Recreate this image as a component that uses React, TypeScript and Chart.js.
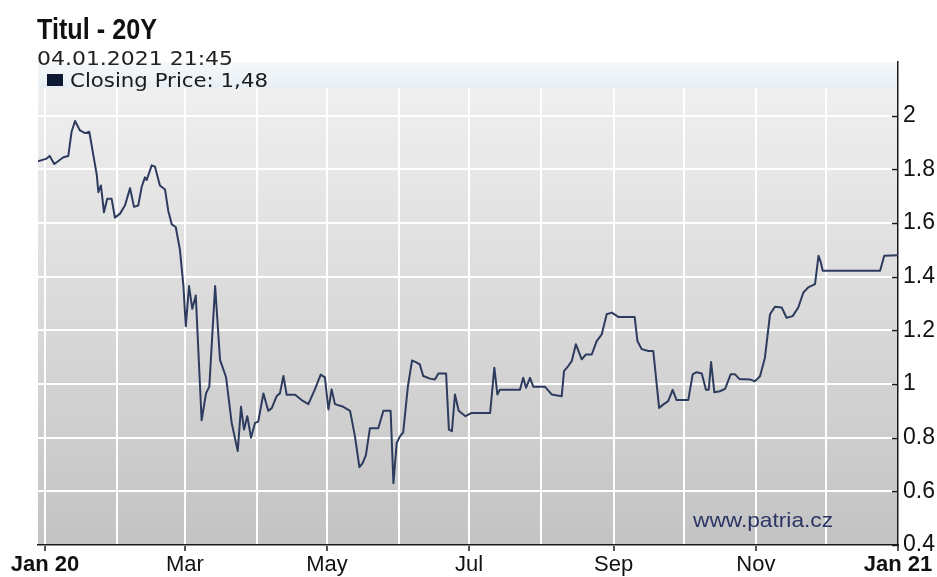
import React, { useEffect, useRef } from 'react';
import { Chart, registerables } from 'chart.js';

Chart.register(...registerables);

// ---- texts ----
const titleText = 'Titul - 20Y';
const dateText = '04.01.2021 21:45';
const seriesName = 'Closing Price';
const lastValueLabel = '1,48';
const watermarkText = 'www.patria.cz';

// ---- data: days since 1 Jan 2020, closing price ----
const dayOffsets = [
  -3, 0.7, 2, 4, 5.6, 7.9, 10, 11.4, 12.9, 15, 17.2, 19, 20, 22.2, 22.9, 24, 25.3, 26.7, 28.6, 30,
  32.2, 34.3, 36.5, 38.2, 40, 41.5, 42.9, 43.6, 45.8, 47.2, 49.3, 51.5, 52.9, 54.4, 56.1, 57.9, 59.4, 60.4, 61.8, 63.2,
  64.7, 67.2, 69.1, 70.5, 73, 75.1, 77.7, 80.1, 82.7, 84.1, 85.4, 86.8, 88.4, 90.1, 91.5, 93.7, 95.8, 97.3, 99.4, 100.8,
  102.3, 103.7, 107.3, 110.1, 113, 115.8, 118.3, 120.1, 121.6, 123, 124.4, 128, 130.9, 133, 134.9, 136.3, 137.7, 139.4, 143, 145.2,
  148.3, 149.5, 150.9, 152.3, 153.7, 155.7, 157.5, 159.5, 160.8, 162.3, 165.2, 167.3, 168.8, 172.1, 173.3, 174.6, 175.9, 177.5, 180.4, 183.1,
  191, 192.8, 194.1, 195.2, 203.8, 205.2, 206.4, 208.1, 209.5, 214.5, 217.4, 221.7, 222.7, 224.5, 226, 227.8, 230.3, 232.1, 234.6, 236.7,
  238.9, 241, 243.2, 246, 253, 254.2, 256, 258.9, 261, 263.5, 265.5, 267.4, 269.3, 271, 276, 277.9, 279.6, 281.8, 283.6, 284.8,
  285.8, 287.2, 289.6, 291.8, 294.2, 296.1, 297.9, 302.5, 304.6, 306.8, 308.9, 311.1, 313.2, 316.1, 318.2, 320.8, 323.2, 325.4, 327.5, 330.4,
  331.9, 332.9, 333.7, 358.3, 360.1, 366,
];
const closingPrices = [
  1.83, 1.84, 1.85, 1.82, 1.83, 1.845, 1.85, 1.94, 1.98, 1.945, 1.935, 1.94, 1.89, 1.78, 1.715, 1.74, 1.64, 1.69, 1.69, 1.62,
  1.635, 1.665, 1.73, 1.66, 1.665, 1.735, 1.77, 1.76, 1.815, 1.81, 1.74, 1.725, 1.645, 1.595, 1.585, 1.5, 1.365, 1.215, 1.365, 1.28,
  1.33, 0.865, 0.965, 0.99, 1.365, 1.09, 1.025, 0.855, 0.75, 0.915, 0.83, 0.88, 0.8, 0.855, 0.86, 0.965, 0.9, 0.91, 0.955, 0.965,
  1.03, 0.96, 0.96, 0.94, 0.925, 0.98, 1.035, 1.025, 0.905, 0.98, 0.925, 0.915, 0.9, 0.805, 0.69, 0.705, 0.735, 0.835, 0.835, 0.9,
  0.9, 0.63, 0.78, 0.805, 0.82, 0.99, 1.088, 1.08, 1.073, 1.03, 1.02, 1.017, 1.039, 1.039, 0.83, 0.824, 0.961, 0.9, 0.88, 0.892,
  0.892, 1.061, 0.961, 0.979, 0.979, 1.023, 0.986, 1.023, 0.99, 0.99, 0.961, 0.954, 1.048, 1.067, 1.085, 1.148, 1.092, 1.11, 1.11, 1.16,
  1.185, 1.26, 1.266, 1.25, 1.25, 1.16, 1.13, 1.123, 1.123, 0.911, 0.925, 0.936, 0.978, 0.94, 0.94, 1.036, 1.044, 1.039, 0.979, 0.979,
  1.082, 0.969, 0.973, 0.982, 1.036, 1.036, 1.019, 1.017, 1.01, 1.029, 1.098, 1.26, 1.288, 1.285, 1.247, 1.253, 1.285, 1.341, 1.36, 1.372,
  1.478, 1.453, 1.422, 1.422, 1.478, 1.48,
];

// ---- axes ----
const xMinDay = -3;
const xMaxDay = 366;
const monthTickDays = [0, 31, 60, 91, 121, 152, 182, 213, 244, 274, 305, 335, 366];
const monthTickLabels = ['Jan 20', '', 'Mar', '', 'May', '', 'Jul', '', 'Sep', '', 'Nov', '', 'Jan 21'];
const boldTickLabels = ['Jan 20', 'Jan 21'];
const yTickValues = [0.4, 0.6, 0.8, 1, 1.2, 1.4, 1.6, 1.8, 2, 2.2];
const yTickLabels = ['0.4', '0.6', '0.8', '1', '1.2', '1.4', '1.6', '1.8', '2', ''];

function fitText(ctx: CanvasRenderingContext2D, text: string, x: number, baseline: number, font: string, width: number, color: string) {
  ctx.save();
  ctx.font = font;
  ctx.fillStyle = color;
  ctx.textAlign = 'left';
  ctx.textBaseline = 'alphabetic';
  const w = ctx.measureText(text).width || 1;
  ctx.translate(x, baseline);
  ctx.scale(width / w, 1);
  ctx.fillText(text, 0, 0);
  ctx.restore();
}

const decorPlugin = {
  id: 'decor',
  beforeDraw(chart: any) {
    const { ctx, chartArea: a } = chart;
    const g = ctx.createLinearGradient(0, a.top, 0, a.bottom);
    g.addColorStop(0, '#f2f2f2');
    g.addColorStop(1, '#c3c3c3');
    ctx.save();
    ctx.fillStyle = g;
    ctx.fillRect(a.left, a.top, a.right - a.left, a.bottom - a.top);
    ctx.restore();
  },
  beforeDatasetsDraw(chart: any) {
    const { ctx, chartArea: a } = chart;
    const g = ctx.createLinearGradient(0, a.top, 0, a.top + 26);
    g.addColorStop(0, '#f4f8fb');
    g.addColorStop(1, '#e8eff4');
    ctx.save();
    ctx.fillStyle = g;
    ctx.fillRect(a.left, a.top, a.right - a.left - 1, 26);
    ctx.restore();
  },
  afterDraw(chart: any) {
    const { ctx, chartArea: a } = chart;
    const yScale = chart.scales.y;
    // inner tick marks on right axis
    ctx.save();
    ctx.strokeStyle = '#1a1a1a';
    ctx.lineWidth = 1.5;
    yTickValues.forEach((v, i) => {
      if (!yTickLabels[i]) return;
      const py = Math.round(yScale.getPixelForValue(v)) + 0.5;
      ctx.beginPath();
      ctx.moveTo(a.right - 6, py);
      ctx.lineTo(a.right, py);
      ctx.stroke();
    });
    ctx.restore();

    // header texts
    fitText(ctx, titleText, 37, 39, 'bold 29px "Liberation Sans", Arial, sans-serif', 120, '#111111');
    fitText(ctx, dateText, 37, 65, '20px "DejaVu Sans", sans-serif', 196, '#222222');
    // legend
    ctx.save();
    ctx.fillStyle = '#0e1a33';
    ctx.fillRect(47, 74, 16, 12);
    ctx.restore();
    fitText(ctx, seriesName + ': ' + lastValueLabel, 70, 87, '19px "DejaVu Sans", sans-serif', 198, '#1a1a1a');
    // watermark
    fitText(ctx, watermarkText, 693, 527, '21px "Liberation Sans", Arial, sans-serif', 140, '#2b3566');
  },
};

export default function App() {
  const ref = useRef<HTMLCanvasElement | null>(null);

  useEffect(() => {
    if (!ref.current) return;
    const points = dayOffsets.map((d, i) => ({ x: d, y: closingPrices[i] }));
    const chart = new Chart(ref.current, {
      type: 'line',
      data: {
        datasets: [
          {
            label: seriesName,
            data: points,
            borderColor: '#2d3b5e',
            borderWidth: 2,
            pointRadius: 0,
            tension: 0,
            fill: false,
            borderJoinStyle: 'round',
          },
        ],
      },
      options: {
        responsive: false,
        animation: false,
        devicePixelRatio: 1,
        layout: { padding: { left: 38, top: 62, right: 0, bottom: 0 } },
        plugins: {
          legend: { display: false },
          title: { display: false },
          tooltip: { enabled: false },
        },
        scales: {
          x: {
            type: 'linear',
            min: xMinDay,
            max: xMaxDay,
            afterBuildTicks: (scale: any) => {
              scale.ticks = monthTickDays.map((v) => ({ value: v }));
            },
            afterFit: (scale: any) => {
              scale.height = 32;
            },
            grid: {
              color: '#ffffff',
              lineWidth: 2,
              drawTicks: true,
              tickLength: 6,
              tickWidth: 1.5,
              tickColor: (c: any) => {
                const idx = monthTickDays.indexOf(c.tick ? c.tick.value : -999);
                return idx >= 0 && monthTickLabels[idx] ? '#1a1a1a' : 'rgba(0,0,0,0)';
              },
            },
            border: { display: true, color: '#1a1a1a', width: 1.5 },
            ticks: {
              autoSkip: false,
              maxRotation: 0,
              padding: 1,
              color: '#111111',
              font: (c: any) => {
                const idx = monthTickDays.indexOf(c.tick ? c.tick.value : -999);
                const lbl = idx >= 0 ? monthTickLabels[idx] : '';
                return {
                  family: '"Liberation Sans Narrow", "Liberation Sans", Arial, sans-serif',
                  size: 22,
                  weight: boldTickLabels.includes(lbl) ? 'bold' : 'normal',
                };
              },
              callback: (value: any) => {
                const idx = monthTickDays.indexOf(Number(value));
                return idx >= 0 ? monthTickLabels[idx] : '';
              },
            },
          },
          y: {
            type: 'linear',
            position: 'right',
            min: 0.4,
            max: 2.2,
            afterBuildTicks: (scale: any) => {
              scale.ticks = yTickValues.map((v) => ({ value: v }));
            },
            afterFit: (scale: any) => {
              scale.width = 39;
            },
            grid: {
              color: '#ffffff',
              lineWidth: 2,
              drawTicks: false,
            },
            border: { display: true, color: '#1a1a1a', width: 1.5 },
            ticks: {
              padding: 5,
              color: '#111111',
              font: { family: '"Liberation Sans", Arial, sans-serif', size: 23 },
              callback: (value: any) => {
                const idx = yTickValues.findIndex((v) => Math.abs(v - Number(value)) < 1e-6);
                return idx >= 0 ? yTickLabels[idx] : '';
              },
            },
          },
        },
      },
      plugins: [decorPlugin],
    } as any);
    return () => chart.destroy();
  }, []);

  return (
    <div style={{ position: 'absolute', left: 0, top: 0, width: 937, height: 577, background: '#ffffff' }}>
      <canvas ref={ref} width={937} height={577} style={{ display: 'block', width: 937, height: 577 }} />
    </div>
  );
}
